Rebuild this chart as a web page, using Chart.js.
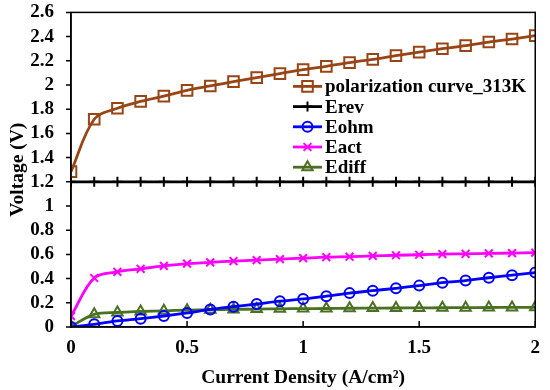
<!DOCTYPE html>
<html lang="en">
<head>
  <meta charset="UTF-8" />
  <title>Polarization curve 313K</title>
  <script src="https://cdn.jsdelivr.net/npm/chart.js"></script>
  <style>
    body {
      margin: 0;
      background: #fff;
    }
    #wrap {
      width: 550px;
      height: 390px;
    }
  </style>
</head>
<body>
  <div id="wrap">
    <canvas id="polChart" width="550" height="390"></canvas>
  </div>

  <script>
    // values
    const currentDensity = [0, 0.1, 0.2, 0.3, 0.4, 0.5, 0.6, 0.7, 0.8, 0.9, 1.0,
                            1.1, 1.2, 1.3, 1.4, 1.5, 1.6, 1.7, 1.8, 1.9, 2.0];
    const polarization = [1.284, 1.717, 1.808, 1.865, 1.908, 1.956, 1.992, 2.028, 2.061, 2.094, 2.127,
                          2.154, 2.185, 2.212, 2.243, 2.272, 2.300, 2.325, 2.355, 2.380, 2.408];
    const eRev = [1.2, 1.2, 1.2, 1.2, 1.2, 1.2, 1.2, 1.2, 1.2, 1.2, 1.2,
                  1.2, 1.2, 1.2, 1.2, 1.2, 1.2, 1.2, 1.2, 1.2, 1.2];
    const eOhm = [0.0, 0.022, 0.050, 0.069, 0.091, 0.116, 0.145, 0.168, 0.190, 0.213, 0.232,
                  0.255, 0.280, 0.300, 0.320, 0.342, 0.366, 0.384, 0.407, 0.428, 0.450];
    const eAct = [0.09, 0.405, 0.456, 0.481, 0.505, 0.524, 0.534, 0.545, 0.553, 0.561, 0.569,
                  0.577, 0.581, 0.588, 0.593, 0.597, 0.602, 0.605, 0.608, 0.611, 0.615];
    const eDiff = [0.005, 0.105, 0.120, 0.128, 0.134, 0.139, 0.142, 0.145, 0.148, 0.150, 0.152,
                   0.153, 0.155, 0.156, 0.157, 0.158, 0.159, 0.160, 0.161, 0.162, 0.163];
    const xTicks = [0, 0.5, 1, 1.5, 2];

    const FONT = '"Liberation Serif", "Times New Roman", serif';

    function pts(ys) {
      return currentDensity.map((x, i) => ({ x: x, y: ys[i] }));
    }

    function series(label, ys, color, style, radius) {
      return {
        label: label,
        data: pts(ys),
        borderColor: color,
        backgroundColor: 'rgba(0,0,0,0)',
        borderWidth: 2.8,
        pointStyle: style,
        pointRadius: radius,
        pointBorderWidth: 2,
        pointBorderColor: color,
        pointBackgroundColor: 'rgba(0,0,0,0)',
        tension: 0.35
      };
    }

    // frame round the plot, inward ticks on x, short outward ticks on y
    const framePlugin = {
      id: 'frame',
      afterDraw(chart) {
        const ctx = chart.ctx;
        const a = chart.chartArea;
        const xs = chart.scales.x;
        const ys = chart.scales.y;
        ctx.save();
        ctx.strokeStyle = '#000';
        ctx.lineWidth = 1.5;
        ctx.strokeRect(a.left, a.top, a.right - a.left, a.bottom - a.top);
        ctx.beginPath();
        xTicks.forEach(v => {
          const px = xs.getPixelForValue(v);
          ctx.moveTo(px, a.bottom);
          ctx.lineTo(px, a.bottom - 6);
        });
        ys.ticks.forEach(t => {
          const py = ys.getPixelForValue(t.value);
          ctx.moveTo(a.left, py);
          ctx.lineTo(a.left - 5, py);
        });
        ctx.stroke();
        ctx.restore();
      }
    };

    // legend inside the plot
    const legendPlugin = {
      id: 'innerLegend',
      afterDraw(chart) {
        const ctx = chart.ctx;
        const a = chart.chartArea;
        const x0 = a.left + 222;
        let y = a.top + 74;
        ctx.save();
        ctx.font = 'bold 19px ' + FONT;
        ctx.textBaseline = 'middle';
        chart.data.datasets.forEach(ds => {
          ctx.strokeStyle = ds.borderColor;
          ctx.lineWidth = 2.8;
          ctx.beginPath();
          ctx.moveTo(x0, y);
          ctx.lineTo(x0 + 29, y);
          ctx.stroke();
          ctx.lineWidth = ds.pointBorderWidth;
          ctx.fillStyle = 'rgba(0,0,0,0)';
          Chart.helpers.drawPoint(ctx, {
            pointStyle: ds.pointStyle,
            radius: ds.pointRadius,
            rotation: 0,
            borderWidth: ds.pointBorderWidth
          }, x0 + 14.5, y);
          ctx.fillStyle = '#000';
          ctx.fillText(ds.label, x0 + 32, y + 1);
          y += 20.2;
        });
        ctx.restore();
      }
    };

    new Chart(document.getElementById('polChart').getContext('2d'), {
      type: 'line',
      data: {
        datasets: [
          series('polarization curve_313K', polarization, '#994414', 'rect', 7.5),
          series('Erev', eRev, '#000000', 'cross', 5),
          series('Eohm', eOhm, '#0000FF', 'circle', 5),
          series('Eact', eAct, '#FF00FF', 'crossRot', 5.5),
          series('Ediff', eDiff, '#4A7022', 'triangle', 6)
        ]
      },
      options: {
        responsive: false,
        animation: false,
        layout: { padding: { top: 0, right: 10, left: 0, bottom: 0 } },
        plugins: {
          legend: { display: false },
          tooltip: { enabled: false }
        },
        scales: {
          x: {
            type: 'linear',
            min: 0,
            max: 2,
            afterBuildTicks(scale) {
              scale.ticks = xTicks.map(v => ({ value: v }));
            },
            afterFit(scale) { scale.height = 63; },
            ticks: {
              color: '#000',
              font: { family: FONT, size: 19, weight: 'bold' },
              padding: 10,
              maxRotation: 0,
              callback: v => String(v)
            },
            grid: { display: true, drawOnChartArea: false, drawTicks: false },
            border: { color: '#000', width: 1.5 },
            title: {
              display: true,
              text: 'Current Density (A/cm²)',
              color: '#000',
              font: { family: FONT, size: 19.5, weight: 'bold' },
              padding: { top: 1, bottom: 0 }
            }
          },
          y: {
            min: 0,
            max: 2.6,
            ticks: {
              stepSize: 0.2,
              autoSkip: false,
              color: '#000',
              font: { family: FONT, size: 19, weight: 'bold' },
              padding: 1,
              callback: v => String(+v.toFixed(1))
            },
            afterFit(scale) { scale.width = 71; },
            grid: { display: true, drawOnChartArea: false, drawTicks: true, tickLength: 16, tickColor: 'rgba(0,0,0,0)', color: 'rgba(0,0,0,0)' },
            border: { color: '#000', width: 1.5 },
            title: {
              display: true,
              text: 'Voltage (V)',
              color: '#000',
              font: { family: FONT, size: 19.5, weight: 'bold' },
              padding: { top: 6, bottom: 0 }
            }
          }
        }
      },
      plugins: [framePlugin, legendPlugin]
    });
  </script>
</body>
</html>
